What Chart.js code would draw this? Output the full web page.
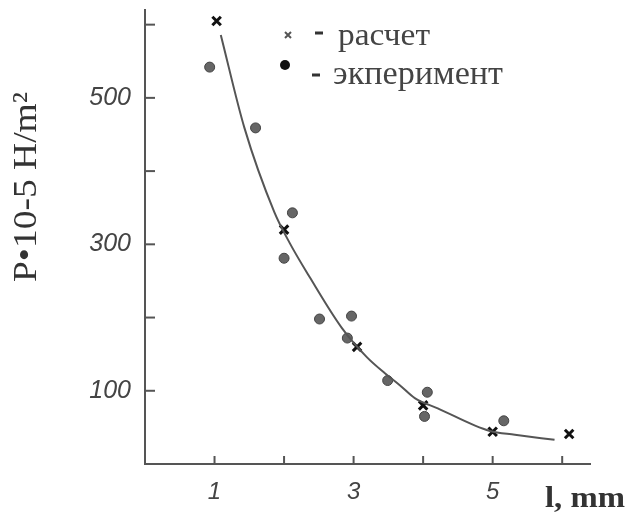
<!DOCTYPE html>
<html>
<head>
<meta charset="utf-8">
<script src="https://cdn.jsdelivr.net/npm/chart.js@4.4.0/dist/chart.umd.min.js"></script>
<style>
html,body{margin:0;padding:0;background:#fff;}
canvas{display:block;}
</style>
</head>
<body>
<canvas id="c" width="626" height="516"></canvas>
<script>
// Calculated values (x marks)
const calcX = [1.03, 2.0, 3.05, 4.0, 5.0, 6.1];
const calcY = [605, 320, 160, 80, 44, 41];
// Experimental values (dots)
const expX = [0.93, 1.59, 2.12, 2.0, 2.51, 2.97, 2.91, 3.49, 4.06, 4.02, 5.16];
const expY = [542, 459, 343, 281, 198, 202, 172, 114, 98, 65, 59];
// Fitted curve
const curveX = [1.09, 1.43, 1.86, 2.08, 2.37, 2.83, 3.19, 3.45, 3.66, 3.88, 4.21, 4.96, 5.32, 5.89];
const curveY = [586, 459, 344, 302, 255, 186, 146, 124, 108, 90, 76, 45, 40, 33];
// Tick values and labels
const xTickValues = [1, 2, 3, 4, 5, 6];
const xTickLabels = ['1', '3', '5'];
const yTickValues = [100, 200, 300, 400, 500, 600];
const yTickLabels = ['100', '300', '500'];
const yTitle = 'P\u202210-5 H/m\u00B2';
const xTitle = 'l, mm';
const legendCalc = 'расчет';
const legendExp = 'экперимент';

const pts = (xs, ys) => xs.map((v, i) => ({x: v, y: ys[i]}));

function stretchedText(ctx, text, x, y, font, targetW, rotate) {
  ctx.save();
  ctx.font = font;
  const w = ctx.measureText(text).width;
  const k = targetW / w;
  ctx.translate(x, y);
  if (rotate) ctx.rotate(-Math.PI / 2);
  ctx.scale(k, 1);
  ctx.fillText(text, 0, 0);
  ctx.restore();
}

const overlay = {
  id: 'overlay',
  afterDraw(chart) {
    const {ctx, scales: {x, y}} = chart;
    ctx.save();
    ctx.strokeStyle = '#555';
    ctx.lineWidth = 2;
    yTickValues.forEach(v => {
      const py = y.getPixelForValue(v);
      ctx.beginPath(); ctx.moveTo(x.left, py); ctx.lineTo(x.left + 10, py); ctx.stroke();
    });
    xTickValues.forEach(v => {
      const px = x.getPixelForValue(v);
      ctx.beginPath(); ctx.moveTo(px, y.bottom); ctx.lineTo(px, y.bottom - 8); ctx.stroke();
    });
    ctx.fillStyle = '#333';
    ctx.textAlign = 'left';
    ctx.textBaseline = 'alphabetic';
    // y title (rotated, reads bottom to top)
    stretchedText(ctx, yTitle, 36, 282, '33px "Liberation Serif"', 190, true);
    // x title
    stretchedText(ctx, xTitle, 545, 507, 'bold 29px "Liberation Serif"', 80, false);
    // legend texts
    ctx.fillStyle = '#444';
    stretchedText(ctx, legendCalc, 338, 45, '32px "Liberation Serif"', 92, false);
    stretchedText(ctx, legendExp, 333, 84, '34px "Liberation Serif"', 170, false);
    // legend dashes
    ctx.strokeStyle = '#333';
    ctx.lineWidth = 3;
    ctx.beginPath();
    ctx.moveTo(315, 33); ctx.lineTo(323, 33);
    ctx.moveTo(312, 75); ctx.lineTo(320, 75);
    ctx.stroke();
    // legend markers
    ctx.strokeStyle = '#555';
    ctx.lineWidth = 2;
    ctx.beginPath();
    ctx.moveTo(285, 32); ctx.lineTo(291, 38);
    ctx.moveTo(291, 32); ctx.lineTo(285, 38);
    ctx.stroke();
    ctx.fillStyle = '#111';
    ctx.beginPath(); ctx.arc(285, 65, 5, 0, Math.PI * 2); ctx.fill();
    ctx.restore();
  }
};

new Chart(document.getElementById('c'), {
  type: 'scatter',
  data: {
    datasets: [
      {
        label: 'curve',
        data: pts(curveX, curveY),
        showLine: true,
        borderColor: '#555',
        borderWidth: 2,
        pointRadius: 0,
        cubicInterpolationMode: 'monotone',
        fill: false
      },
      {
        label: legendExp,
        data: pts(expX, expY),
        pointStyle: 'circle',
        pointRadius: 5,
        backgroundColor: '#666',
        borderColor: '#444',
        borderWidth: 1
      },
      {
        label: legendCalc,
        data: pts(calcX, calcY),
        pointStyle: 'crossRot',
        pointRadius: 6,
        borderColor: '#111',
        borderWidth: 3
      }
    ]
  },
  options: {
    responsive: false,
    animation: false,
    layout: {padding: {top: 10, right: 36, left: 0, bottom: 0}},
    plugins: {legend: {display: false}, tooltip: {enabled: false}},
    scales: {
      x: {
        type: 'linear', min: 0, max: 6.4,
        afterFit: s => { s.height = 52; s.paddingLeft = 0; s.paddingRight = 0; },
        afterBuildTicks: s => { s.ticks = xTickValues.map(v => ({value: v})); },
        grid: {display: false, drawTicks: false},
        border: {color: '#555', width: 2},
        ticks: {
          autoSkip: false, maxRotation: 0, padding: 14,
          color: '#444',
          font: {family: 'Liberation Sans', size: 24, style: 'italic'},
          callback: v => xTickLabels.includes(String(v)) ? String(v) : ''
        }
      },
      y: {
        type: 'linear', min: 0, max: 620,
        afterFit: s => { s.width = 145; s.paddingTop = 0; s.paddingBottom = 0; },
        afterBuildTicks: s => { s.ticks = yTickValues.map(v => ({value: v})); },
        grid: {display: false, drawTicks: false},
        border: {color: '#555', width: 2},
        ticks: {
          autoSkip: false, padding: 14,
          color: '#444',
          font: {family: 'Liberation Sans', size: 25, style: 'italic'},
          callback: v => yTickLabels.includes(String(v)) ? String(v) : ''
        }
      }
    }
  },
  plugins: [overlay]
});
</script>
</body>
</html>
